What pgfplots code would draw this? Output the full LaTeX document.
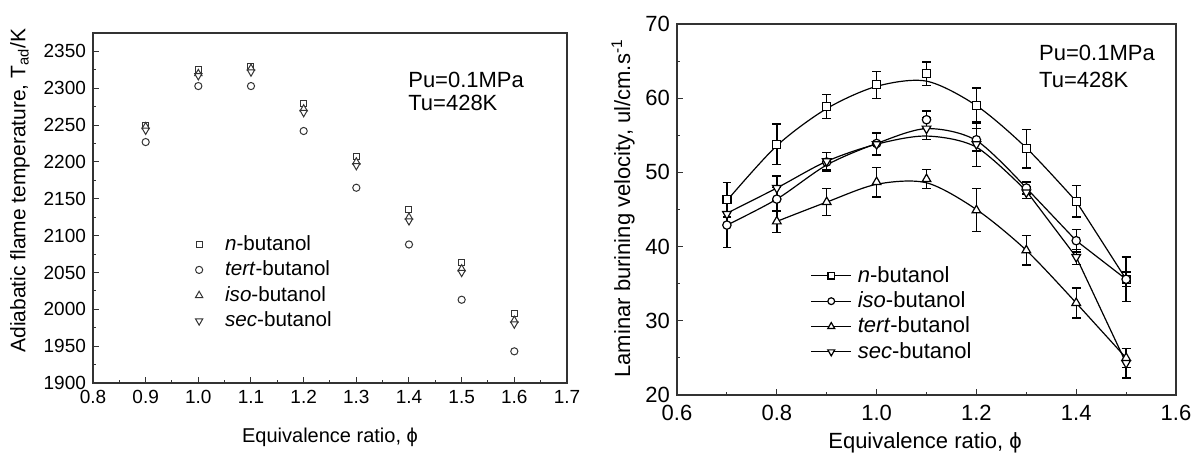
\documentclass[border=0pt]{standalone}
\usepackage{fontspec}
\setmainfont{Liberation Sans}
\usepackage{pgfplots}
\pgfplotsset{compat=1.18}
\usepackage{pgfplotstable}

\pgfplotstableread{
x    n    tert iso  sec
0.9  2250 2227 2248 2243
1.0  2325 2303 2320 2317
1.1  2330 2303 2327 2322
1.2  2280 2242 2272 2267
1.3  2208 2165 2200 2195
1.4  2135 2088 2125 2120
1.5  2063 2013 2055 2050
1.6  1995 1943 1985 1980
}\tad

% measured points with error bars
\pgfplotstableread{
x   y    e
0.7 46.3 2.3
0.8 53.8 2.7
0.9 58.9 1.6
1.0 61.8 1.8
1.1 63.3 1.6
1.2 59.0 2.4
1.3 53.2 2.6
1.4 46.1 2.1
1.5 35.6 3.0
}\nPts
\pgfplotstableread{
x   y    e
0.7 42.9 3.0
0.8 46.4 1.6
0.9 51.4 1.3
1.0 53.9 1.5
1.1 57.1 1.2
1.2 54.4 1.5
1.3 47.9 0.8
1.4 40.8 1.5
1.5 35.6 1.0
}\isoPts
\pgfplotstableread{
x   y    e
0.8 43.4 1.5
0.9 46.0 1.8
1.0 48.7 2.0
1.1 49.1 1.3
1.2 44.9 2.9
1.3 39.5 2.0
1.4 32.4 2.0
1.5 25.0 1.3
}\tertPts
\pgfplotstableread{
x   y    e
0.7 44.4 1.5
0.8 47.9 1.6
0.9 51.5 1.2
1.0 53.8 1.5
1.1 55.9 1.5
1.2 53.8 3.0
1.3 47.3 0.8
1.4 38.6 1.0
1.5 24.3 2.0
}\secPts

% fitted curves
\pgfplotstableread{
x   y
0.7 46.2
0.8 53.6
0.9 58.6
1.0 61.6
1.1 62.3
1.2 59.0
1.3 53.3
1.4 46.1
}\nFit
\pgfplotstableread{
x   y
1.4 46.1
1.5 35.6
}\nTail
\pgfplotstableread{
x   y
0.7 42.9
0.8 46.4
0.9 51.0
1.0 53.9
1.1 55.9
1.2 54.3
1.3 47.9
}\isoFit
\pgfplotstableread{
x   y
1.3 47.9
1.4 40.8
1.5 35.6
}\isoTail
\pgfplotstableread{
x   y
0.8 43.4
0.9 46.0
1.0 48.4
1.1 48.6
1.2 45.0
1.3 39.5
1.4 32.4
}\tertFit
\pgfplotstableread{
x   y
1.4 32.4
1.5 25.0
}\tertTail
\pgfplotstableread{
x   y
0.7 44.5
0.8 47.9
0.9 51.5
1.0 53.8
1.1 54.9
1.2 53.4
1.3 47.5
}\secFit
\pgfplotstableread{
x   y
1.3 47.5
1.4 38.6
1.5 24.3
}\secTail

\begin{document}
\begin{tikzpicture}
\useasboundingbox (0,0) rectangle (596pt,228.5pt);

\pgfplotsset{
  common/.style={
    scale only axis,
    anchor=south west,
    axis line style={black!80, line width=0.6pt},
    tick pos=left,
    tick align=inside,
    major tick length=3pt,
    minor tick length=1.7pt,
    tick style={black!80, line width=0.5pt},
    minor x tick num=1,
    minor y tick num=1,
    /pgf/number format/assume math mode=true,
    legend cell align=left,
  },
}

% ---------------- left axis ----------------
\begin{axis}[common,
  at={(46.5pt,37pt)},
  width=237pt, height=175pt,
  xmin=0.8, xmax=1.7, ymin=1900, ymax=2375,
  xtick={0.8,0.9,...,1.71},
  ytick={1900,1950,...,2350},
  xticklabel style={font=\fontsize{9.5}{11}\selectfont, /pgf/number format/.cd, fixed, fixed zerofill, precision=1},
  yticklabel style={font=\fontsize{9.5}{11}\selectfont, /pgf/number format/.cd, 1000 sep={}},
  xlabel={Equivalence ratio, ϕ},
  ylabel={Adiabatic flame temperature, T\textsubscript{ad}/K},
  xlabel style={font=\fontsize{10}{12}\selectfont, at={(axis description cs:0.5,0)}, anchor=center, yshift=-27pt},
  ylabel style={font=\fontsize{10.5}{12}\selectfont, at={(axis description cs:-0.154,0.55)}, anchor=center},
  legend style={at={(rel axis cs:0.202,0.44)}, anchor=north west, draw=none, fill=none,
    font=\fontsize{10.3}{12}\selectfont, row sep=-0.2pt, inner sep=1pt,
    nodes={inner xsep=4pt}},
  legend image code/.code={\path[draw=none,fill=none] (0pt,0pt) rectangle (13pt,0.1pt); \draw[#1] plot coordinates {(4pt,0pt)};},
]
\addplot[black!80, only marks, mark=square*, mark size=1.5pt, mark options={fill=white, line width=0.5pt}] table[x=x,y=n]{\tad};
\addlegendentry{\textit{n}-butanol}
\addplot[black!80, only marks, mark=*, mark size=1.8pt, mark options={fill=white, line width=0.5pt}] table[x=x,y=tert]{\tad};
\addlegendentry{\textit{tert}-butanol}
\addplot[black!80, only marks, mark=triangle*, mark size=2.1pt, mark options={fill=white, line width=0.5pt}] table[x=x,y=iso]{\tad};
\addlegendentry{\textit{iso}-butanol}
\addplot[black!80, only marks, mark=triangle*, mark size=2.1pt, mark options={fill=white, line width=0.5pt, rotate=180}] table[x=x,y=sec]{\tad};
\addlegendentry{\textit{sec}-butanol}
\node[anchor=west, align=left, font=\fontsize{11}{11.7}\selectfont, inner sep=0pt] at (axis cs:1.398,2296) {Pu=0.1MPa\\Tu=428K};
\end{axis}

% ---------------- right axis ----------------
\begin{axis}[common,
  at={(338.5pt,31pt)},
  width=249.5pt, height=185.5pt,
  xmin=0.6, xmax=1.6, ymin=20, ymax=70,
  xtick={0.6,0.8,...,1.61},
  ytick={20,30,...,70},
  xticklabel style={font=\fontsize{11}{13}\selectfont, yshift=-1.5pt, /pgf/number format/.cd, fixed, fixed zerofill, precision=1},
  yticklabel style={font=\fontsize{11}{13}\selectfont},
  xlabel={Equivalence ratio, ϕ},
  ylabel={Laminar burining velocity, ul/cm.s\textsuperscript{-1}},
  xlabel style={font=\fontsize{11}{13}\selectfont, at={(axis description cs:0.497,0)}, anchor=center, yshift=-24pt},
  ylabel style={font=\fontsize{11}{13}\selectfont, at={(axis description cs:-0.108,0.503)}, anchor=center},
  legend style={at={(rel axis cs:0.263,0.364)}, anchor=north west, draw=none, fill=none,
    font=\fontsize{11}{13}\selectfont, row sep=-0.8pt, inner sep=1pt,
    nodes={inner xsep=3pt}},
  legend image code/.code={\draw[mark repeat=2,mark phase=2,#1] plot coordinates {(0pt,0pt) (10pt,0pt) (20pt,0pt)};},
  errstyle/.style={error bars/.cd, y dir=both, y explicit,
     error mark=-,
     error bar style={line width=0.7pt, black},
     error mark options={rotate=90, black, mark size=2.2pt, line width=0.7pt}},
]
% curves
\addplot[black, line width=0.6pt, smooth, no marks, forget plot] table[x=x,y=y]{\nFit};
\addplot[black, line width=0.6pt, sharp plot, no marks, forget plot] table[x=x,y=y]{\nTail};
\addplot[black, line width=0.6pt, smooth, no marks, forget plot] table[x=x,y=y]{\isoFit};
\addplot[black, line width=0.6pt, sharp plot, no marks, forget plot] table[x=x,y=y]{\isoTail};
\addplot[black, line width=0.6pt, smooth, no marks, forget plot] table[x=x,y=y]{\tertFit};
\addplot[black, line width=0.6pt, sharp plot, no marks, forget plot] table[x=x,y=y]{\tertTail};
\addplot[black, line width=0.6pt, smooth, no marks, forget plot] table[x=x,y=y]{\secFit};
\addplot[black, line width=0.6pt, sharp plot, no marks, forget plot] table[x=x,y=y]{\secTail};
% points with error bars
\addplot[black, only marks, mark=square*, mark size=2pt, mark options={fill=white, line width=0.6pt}, forget plot, errstyle]
  table[x=x,y=y,y error=e]{\nPts};
\addplot[black, only marks, mark=*, mark size=2.1pt, mark options={fill=white, line width=0.6pt}, forget plot, errstyle]
  table[x=x,y=y,y error=e]{\isoPts};
\addplot[black, only marks, mark=triangle*, mark size=2.5pt, mark options={fill=white, line width=0.6pt}, forget plot, errstyle]
  table[x=x,y=y,y error=e]{\tertPts};
\addplot[black, only marks, mark=triangle*, mark size=2.5pt, mark options={fill=white, line width=0.6pt, rotate=180}, forget plot, errstyle]
  table[x=x,y=y,y error=e]{\secPts};
% legend
\addlegendimage{black, line width=0.6pt, mark=square*, mark size=1.6pt, mark options={fill=white, solid}}
\addlegendentry{\textit{n}-butanol}
\addlegendimage{black, line width=0.6pt, mark=*, mark size=1.7pt, mark options={fill=white, solid}}
\addlegendentry{\textit{iso}-butanol}
\addlegendimage{black, line width=0.6pt, mark=triangle*, mark size=2pt, mark options={fill=white, solid}}
\addlegendentry{\textit{tert}-butanol}
\addlegendimage{black, line width=0.6pt, mark=triangle*, mark size=2pt, mark options={fill=white, solid, rotate=180}}
\addlegendentry{\textit{sec}-butanol}
\node[anchor=west, align=left, font=\fontsize{11}{13.3}\selectfont, inner sep=0pt] at (axis cs:1.325,64.27) {Pu=0.1MPa\\Tu=428K};
\end{axis}
\end{tikzpicture}
\end{document}
